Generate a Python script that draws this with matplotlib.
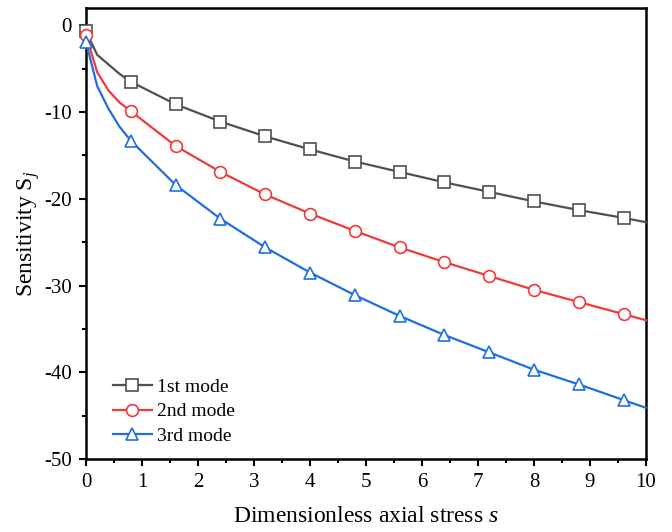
import numpy as np
import matplotlib
matplotlib.use("Agg")
import matplotlib.pyplot as plt
from matplotlib.ticker import MultipleLocator

# Data
#========================================#
s_line = [0, 0.2, 0.4, 0.6, 0.8, 1.6, 2.4, 3.2, 4.0, 4.8, 5.6, 6.4, 7.2, 8.0, 8.8, 9.6, 10.0]
mode1 = [-0.7, -3.4, -4.5, -5.6, -6.5, -9.1, -11.1, -12.8, -14.3, -15.7, -16.9, -18.1, -19.2, -20.3, -21.3, -22.2, -22.7]
mode2 = [-1.1, -5.4, -7.5, -8.9, -9.9, -13.9, -16.9, -19.5, -21.7, -23.7, -25.6, -27.3, -28.9, -30.5, -31.9, -33.3, -34.0]
mode3 = [-1.9, -7.0, -9.6, -11.7, -13.3, -18.4, -22.3, -25.6, -28.5, -31.1, -33.5, -35.7, -37.7, -39.7, -41.4, -43.2, -44.1]
labels = ["1st mode", "2nd mode", "3rd mode"]

# Style
#========================================#
plt.rcParams['font.family'] = ['Liberation Serif', 'DejaVu Serif']
plt.rcParams['mathtext.fontset'] = 'custom'
plt.rcParams['mathtext.rm'] = 'Liberation Serif'
plt.rcParams['mathtext.it'] = 'Liberation Serif:italic'
plt.rcParams['axes.unicode_minus'] = False

fig = plt.figure(figsize=(6.72, 5.32), dpi=100)
ax = fig.add_axes([86/672, 1 - 459/532, 560/672, 451/532])

colors = ["#505050", "#F03A3A", "#1F6FE0"]
markers = ["s", "o", "^"]
marker_idx = [0] + list(range(4, 16))  # markers every 0.8

for y, c, m, lab in zip([mode1, mode2, mode3], colors, markers, labels):
    ax.plot(s_line, y, color=c, lw=1.6, marker=m, markevery=marker_idx,
            markersize=8.5, markerfacecolor="white", markeredgecolor=c,
            markeredgewidth=1.2, label=lab, clip_on=False, zorder=3)

ax.set_xlim(0, 10)
ax.set_ylim(-50, 2)
ax.xaxis.set_major_locator(MultipleLocator(1))
ax.xaxis.set_minor_locator(MultipleLocator(0.5))
ax.yaxis.set_major_locator(MultipleLocator(10))
ax.yaxis.set_minor_locator(MultipleLocator(5))
ax.tick_params(which="both", direction="out", width=1.5, labelsize=15,
               top=False, right=False)
ax.tick_params(which="major", length=5, pad=5)
ax.tick_params(which="minor", length=3)
for sp in ax.spines.values():
    sp.set_linewidth(1.8)

ax.set_xlabel("Dimensionless axial stress $\\mathit{s}$", fontsize=17, labelpad=10)
ax.set_ylabel("Sensitivity $\\mathregular{S}_{\\mathit{j}}$", fontsize=17, labelpad=2)

ax.legend(loc="lower left", bbox_to_anchor=(0.02, -0.003), frameon=False,
          fontsize=14, handlelength=2.0, handletextpad=0.3,
          labelspacing=0.35, borderpad=0.3)

fig.savefig("out.png", dpi=100)
